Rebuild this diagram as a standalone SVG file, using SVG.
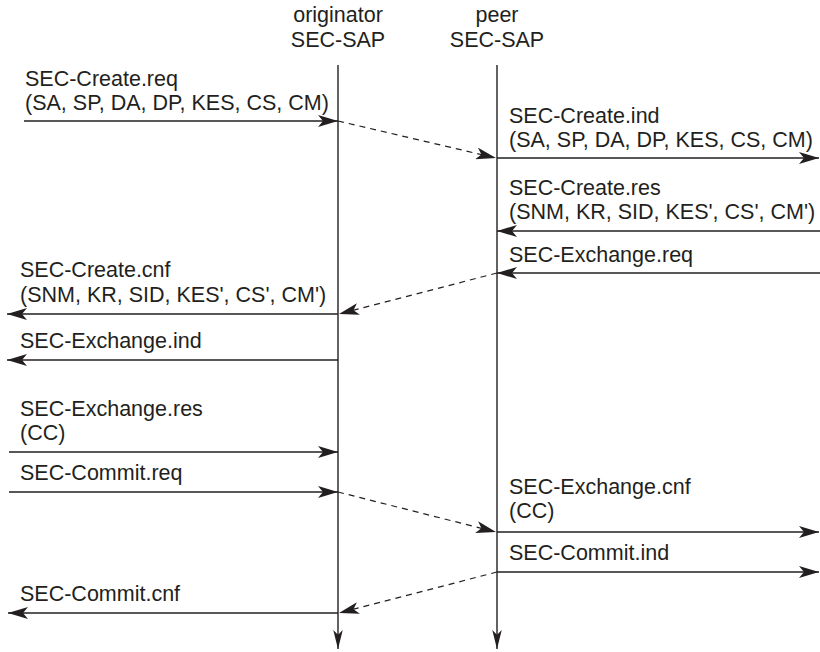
<svg xmlns="http://www.w3.org/2000/svg" width="820" height="652" viewBox="0 0 820 652">
  <style>
    text { font-family: "Liberation Sans", Arial, Helvetica, sans-serif; font-size: 21.5px; fill: #231f20; }
    .hdr { text-anchor: middle; }
    .life { stroke: #231f20; stroke-width: 1.4; fill: none; }
    .msg { stroke: #231f20; stroke-width: 1.4; fill: none; }
    .dash { stroke: #231f20; stroke-width: 1.2; fill: none; stroke-dasharray: 6 5; }
  </style>
  <defs>
    <marker id="ah" viewBox="0 0 20 12" refX="20" refY="6" markerWidth="20" markerHeight="12" markerUnits="userSpaceOnUse" orient="auto">
      <path d="M0,0 L20,6 L0,12 L5,6 Z" fill="#231f20"/>
    </marker>
    <marker id="ahd" viewBox="0 0 20 10" refX="20" refY="5" markerWidth="19" markerHeight="10" markerUnits="userSpaceOnUse" orient="auto">
      <path d="M0,0 L20,5 L0,10 L5,5 Z" fill="#231f20"/>
    </marker>
  </defs>

  <rect width="820" height="652" fill="#ffffff"/>

  <g id="originator">
    <text class="hdr" x="338" y="22">originator</text>
    <text class="hdr" x="338" y="47">SEC-SAP</text>
    <line class="life" x1="338" y1="65" x2="338" y2="649" marker-end="url(#ahd)"/>
  </g>

  <g id="peer">
    <text class="hdr" x="497" y="22">peer</text>
    <text class="hdr" x="497" y="47">SEC-SAP</text>
    <line class="life" x1="497" y1="65" x2="497" y2="649" marker-end="url(#ahd)"/>
  </g>

  <g id="connectors">
    <!-- SEC-Create.req -->
    <line class="msg" x1="24" y1="121" x2="338" y2="121" marker-end="url(#ah)"/>
    <line class="dash" x1="338" y1="121" x2="496" y2="158" marker-end="url(#ah)"/>
    <!-- SEC-Create.ind -->
    <line class="msg" x1="497" y1="158" x2="819" y2="158" marker-end="url(#ah)"/>
    <!-- SEC-Create.res -->
    <line class="msg" x1="820" y1="231" x2="497" y2="231" marker-end="url(#ah)"/>
    <!-- SEC-Exchange.req -->
    <line class="msg" x1="820" y1="273" x2="497" y2="273" marker-end="url(#ah)"/>
    <line class="dash" x1="497" y1="273" x2="339" y2="314" marker-end="url(#ah)"/>
    <!-- SEC-Create.cnf -->
    <line class="msg" x1="338" y1="314" x2="7" y2="314" marker-end="url(#ah)"/>
    <!-- SEC-Exchange.ind -->
    <line class="msg" x1="338" y1="360" x2="7" y2="360" marker-end="url(#ah)"/>
    <!-- SEC-Exchange.res -->
    <line class="msg" x1="9" y1="452" x2="338" y2="452" marker-end="url(#ah)"/>
    <!-- SEC-Commit.req -->
    <line class="msg" x1="9" y1="492" x2="338" y2="492" marker-end="url(#ah)"/>
    <line class="dash" x1="338" y1="492" x2="496" y2="532" marker-end="url(#ah)"/>
    <!-- SEC-Exchange.cnf -->
    <line class="msg" x1="497" y1="532" x2="819" y2="532" marker-end="url(#ah)"/>
    <!-- SEC-Commit.ind -->
    <line class="msg" x1="497" y1="572" x2="819" y2="572" marker-end="url(#ah)"/>
    <line class="dash" x1="497" y1="572" x2="339" y2="613" marker-end="url(#ah)"/>
    <!-- SEC-Commit.cnf -->
    <line class="msg" x1="338" y1="613" x2="8" y2="613" marker-end="url(#ah)"/>
  </g>

  <g id="labels">
    <text x="25" y="86">SEC-Create.req</text>
    <text x="25" y="110">(SA, SP, DA, DP, KES, CS, CM)</text>

    <text x="509" y="123">SEC-Create.ind</text>
    <text x="509" y="147">(SA, SP, DA, DP, KES, CS, CM)</text>

    <text x="509" y="195">SEC-Create.res</text>
    <text x="509" y="219">(SNM, KR, SID, KES', CS', CM')</text>

    <text x="509" y="262">SEC-Exchange.req</text>

    <text x="20" y="277">SEC-Create.cnf</text>
    <text x="20" y="302">(SNM, KR, SID, KES', CS', CM')</text>

    <text x="20" y="348">SEC-Exchange.ind</text>

    <text x="20" y="416">SEC-Exchange.res</text>
    <text x="20" y="440">(CC)</text>

    <text x="20" y="480">SEC-Commit.req</text>

    <text x="509" y="494">SEC-Exchange.cnf</text>
    <text x="509" y="518">(CC)</text>

    <text x="509" y="560">SEC-Commit.ind</text>

    <text x="20" y="601">SEC-Commit.cnf</text>
  </g>
</svg>
